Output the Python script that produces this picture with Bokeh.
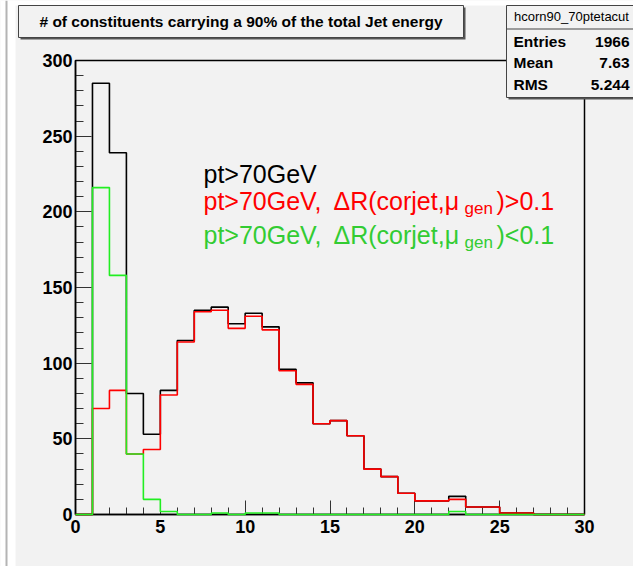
from bokeh.plotting import figure
from bokeh.models import (Range1d, FixedTicker, BoxAnnotation, Label, LabelSet,
                          LinearAxis, ColumnDataSource)
from bokeh.core.properties import value
from bokeh.embed import file_html
from bokeh.resources import INLINE

# ---------------- data ----------------
bin_edges = list(range(0, 31))
all_jets = [0, 285, 239, 80, 53, 82, 115, 135, 137, 126, 133, 124, 96, 87, 60,
            62, 52, 30, 25, 14, 9, 9, 12, 5, 5, 1, 1, 0, 0, 0]
dr_gt = [0, 70, 82, 40, 43, 79, 114, 134, 135, 123, 131, 122, 95, 86, 60,
         62, 52, 30, 25, 14, 9, 9, 10, 5, 5, 1, 1, 0, 0, 0]
dr_lt = [0, 216, 158, 40, 10, 2, 0, 0, 1, 0, 1, 1, 0, 0, 0,
         0, 0, 0, 0, 0, 0, 0, 2, 0, 0, 0, 0, 0, 0, 0]
x_ticks = [0, 5, 10, 15, 20, 25, 30]
x_tick_labels = ["0", "5", "10", "15", "20", "25", "30"]
x_minor_ticks = list(range(0, 31, 1))
y_ticks = [0, 50, 100, 150, 200, 250, 300]
y_tick_labels = ["0", "50", "100", "150", "200", "250", "300"]
y_minor_ticks = list(range(0, 301, 10))
title_text = "# of constituents carrying a 90% of the total Jet energy"
stats_name = "hcorn90_70ptetacut"
stats_keys = ["Entries", "Mean", "RMS"]
stats_vals = ["1966", "7.63", "5.244"]

# ---------------- layout ----------------
W, H = 633, 566
FL, FR, FT, FB = 75, 584, 60, 514          # pixel box of the histogram frame
X0, X1, Y0, Y1 = 0, 30, 0, 300
ppx = (FR - FL) / (X1 - X0)
ppy = (FB - FT) / (Y1 - Y0)
FONT = "Liberation Sans"
BG = "#f2f2f2"

p = figure(width=W, height=H, output_backend="svg", toolbar_location=None, tools="",
           x_axis_type=None, y_axis_type=None,
           x_range=Range1d(X0 - FL / ppx, X0 + (W - FL) / ppx),
           y_range=Range1d(Y0 - (H - FB) / ppy, Y0 + FB / ppy),
           min_border=0)
p.background_fill_color = BG
p.border_fill_color = BG
p.outline_line_color = None
p.xgrid.visible = False
p.ygrid.visible = False

# axes drawn at the data origin; tick marks only (labels below are LabelSets)
def axis(side, loc, bounds, ticks, length, line):
    ax = LinearAxis(fixed_location=loc, bounds=bounds,
                    ticker=FixedTicker(ticks=[], minor_ticks=ticks))
    ax.minor_tick_in = length
    ax.minor_tick_out = 0
    ax.major_tick_in = 0
    ax.major_tick_out = 0
    ax.major_label_standoff = 0
    ax.minor_tick_line_color = "#333333"
    ax.minor_tick_line_width = 1
    ax.axis_line_color = "black" if line else None
    ax.axis_line_width = 1.5
    p.add_layout(ax, side)

axis("below", Y0, (X0, X1), x_minor_ticks, 7, True)
axis("below", Y0, (X0, X1), x_ticks, 14, False)
axis("left", X0, (Y0, Y1), y_minor_ticks, 8, True)
axis("left", X0, (Y0, Y1), y_ticks, 16, False)

tick_style = dict(text_font=value(FONT), text_font_style="bold", text_font_size="18px",
                  text_color="black")
p.add_layout(LabelSet(x="x", y="y", text="t", x_units="data", y_units="data",
                      source=ColumnDataSource(dict(x=x_ticks, y=[Y0] * len(x_ticks),
                                                   t=x_tick_labels)),
                      y_offset=-5, text_align="center", text_baseline="top", **tick_style))
p.add_layout(LabelSet(x="x", y="y", text="t", x_units="data", y_units="data",
                      source=ColumnDataSource(dict(x=[X0] * len(y_ticks), y=y_ticks,
                                                   t=y_tick_labels)),
                      x_offset=-3, text_align="right", text_baseline="middle", **tick_style))

# frame top / right edges
p.add_layout(BoxAnnotation(left=X0, right=X1, bottom=Y0, top=Y1, fill_alpha=0,
                           line_color="black", line_width=1.5, line_alpha=1))

def hist(vals, color):
    p.step(x=bin_edges, y=vals + [vals[-1]], mode="after", line_color=color,
           line_width=1.6, level="overlay")

hist(all_jets, "#000000")
hist(dr_gt, "#ff0000")
hist(dr_lt, "#22ee22")

# ---------------- canvas decorations (canvas pixel units) ----------------
def box(l, t, r, b, fill, line=None, lw=1):
    p.add_layout(BoxAnnotation(left=l, right=r, top=t, bottom=b,
                               left_units="canvas", right_units="canvas",
                               top_units="canvas", bottom_units="canvas",
                               fill_color=fill, fill_alpha=1,
                               line_color=line, line_width=lw,
                               line_alpha=1 if line else 0))

box(0, 0, 15, H, "white")
box(0, 0, W, 5, "white")
box(5, 0, 7, H, "#b4b4b4")

# title box
box(20, 7, 465, 39, "#555555")
box(18, 5, 463, 37, BG, "#444444", 1)
# stats box
box(508, 7, W + 10, 99, "#555555")
box(506, 5, W + 8, 97, BG, "#444444", 1)
box(506, 28, W + 8, 29, "#444444")

def label(px, py, text, size, color="black", style="normal",
          align="left", baseline="middle"):
    p.add_layout(Label(x=px, y=py, x_units="canvas", y_units="canvas", text=text,
                       text_font=FONT, text_font_size=f"{size}px", text_font_style=style,
                       text_color=color, text_align=align, text_baseline=baseline))

label(240.5, 21, title_text, 15.5, style="bold", align="center")
label(571, 16, stats_name, 13, align="center")
for key, val, py in zip(stats_keys, stats_vals, (41, 62, 84)):
    label(513, py, key, 15.5, style="bold")
    label(629, py, val, 15.5, style="bold", align="right")

# legend texts
label(203, 173, "pt>70GeV", 25, "black", baseline="alphabetic")
for py, color, tail in ((200, "#ff0000", ")>0.1"), (234, "#33cc33", ")<0.1")):
    label(203, py, "pt>70GeV,", 25, color, baseline="alphabetic")
    label(333, py, "\u0394R(corjet,\u03bc", 25, color, baseline="alphabetic")
    label(464, py + 8, "gen", 17, color, baseline="alphabetic")
    label(496, py, tail, 25, color, baseline="alphabetic")

open("out.html", "w").write(file_html(p, INLINE))
